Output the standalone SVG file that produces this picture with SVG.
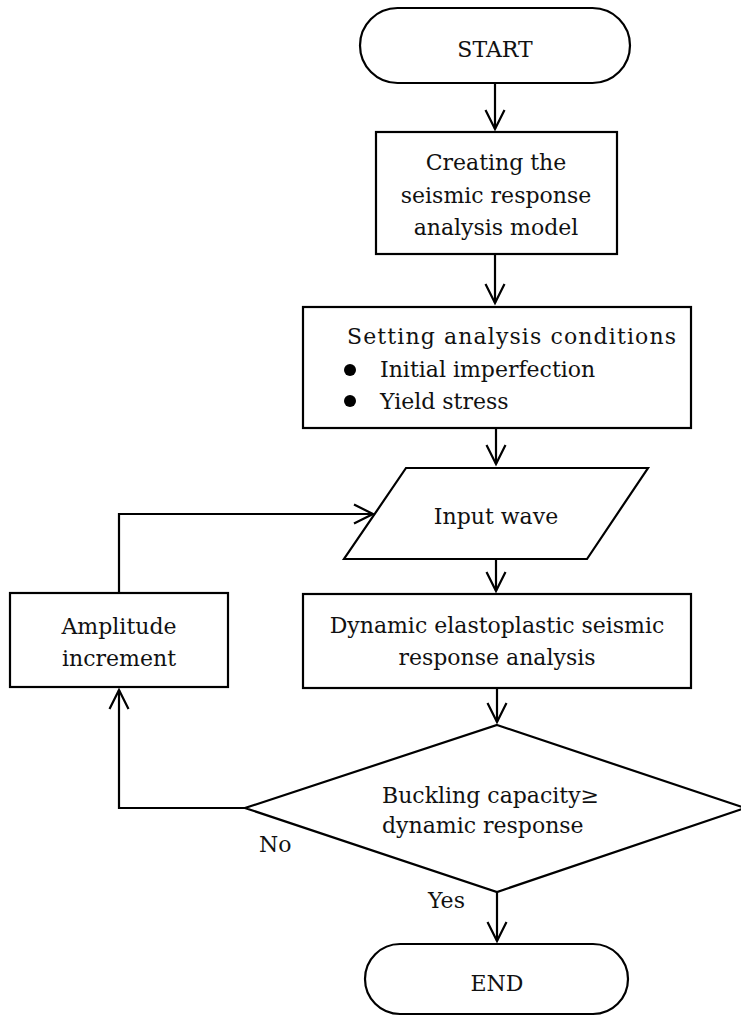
<svg xmlns="http://www.w3.org/2000/svg" width="741" height="1019" viewBox="0 0 741 1019">
<style>
.s{fill:#fff;stroke:#000;stroke-width:2.2}
.t{font-family:"DejaVu Serif","Liberation Serif",serif;font-size:22px;fill:#111;text-anchor:middle}
.l{text-anchor:start}
.c{fill:none;stroke:#000;stroke-width:2.2}
</style>
<defs>
<marker id="arr" markerUnits="userSpaceOnUse" markerWidth="26" markerHeight="26" viewBox="-22 -13 26 26" refX="0" refY="0" orient="auto">
<path d="M-19,-9.5 L0,0 L-19,9.5" fill="none" stroke="#000" stroke-width="2.2"/>
</marker>
</defs>
<g id="start"><rect class="s" x="360" y="8" width="270" height="75" rx="37.5"/><text class="t" x="495" y="57">START</text></g>
<g id="create"><rect class="s" x="376" y="132" width="241" height="122"/>
<text class="t" x="496" y="170">Creating the</text><text class="t" x="496" y="203">seismic response</text><text class="t" x="496" y="235">analysis model</text></g>
<g id="setting"><rect class="s" x="303" y="307" width="388" height="121"/>
<text class="t l" x="347" y="344" textLength="329">Setting analysis conditions</text>
<circle cx="350" cy="370" r="6"/><text class="t l" x="380" y="377">Initial imperfection</text>
<circle cx="350" cy="401" r="6"/><text class="t l" x="380" y="409">Yield stress</text></g>
<g id="input"><polygon class="s" points="406,468 648,468 587,559 344,559"/><text class="t" x="496" y="524">Input wave</text></g>
<g id="dynamic"><rect class="s" x="303" y="594" width="388" height="94"/>
<text class="t" x="497" y="633">Dynamic elastoplastic seismic</text><text class="t" x="497" y="665">response analysis</text></g>
<g id="amplitude"><rect class="s" x="10" y="593" width="218" height="94"/>
<text class="t" x="119" y="634">Amplitude</text><text class="t" x="119" y="666">increment</text></g>
<g id="decision"><polygon class="s" points="497,725 745,808 497,892 245,808"/>
<text class="t l" x="382" y="803">Buckling capacity≥</text><text class="t l" x="382" y="833">dynamic response</text></g>
<g id="end"><rect class="s" x="365" y="944" width="263" height="70" rx="35"/><text class="t" x="497" y="991">END</text></g>
<g id="connectors">
<line class="c" x1="495" y1="83" x2="495" y2="129" marker-end="url(#arr)"/>
<line class="c" x1="495" y1="254" x2="495" y2="303" marker-end="url(#arr)"/>
<line class="c" x1="496" y1="428" x2="496" y2="464" marker-end="url(#arr)"/>
<line class="c" x1="496" y1="559" x2="496" y2="591" marker-end="url(#arr)"/>
<line class="c" x1="497" y1="688" x2="497" y2="722" marker-end="url(#arr)"/>
<line class="c" x1="497" y1="892" x2="497" y2="941" marker-end="url(#arr)"/>
<polyline class="c" points="245,808 119,808 119,690" marker-end="url(#arr)"/>
<polyline class="c" points="119,593 119,514 373,514" marker-end="url(#arr)"/>
<text class="t l" x="259" y="852">No</text>
<text class="t l" x="428" y="908">Yes</text>
</g>
</svg>
